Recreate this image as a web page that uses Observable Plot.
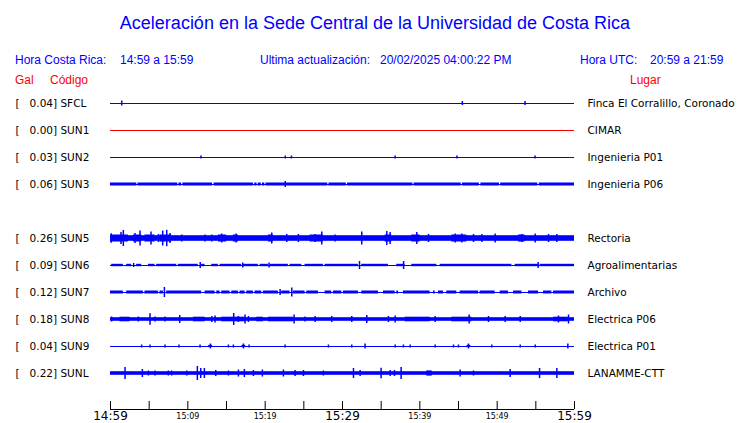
<!DOCTYPE html>
<html>
<head>
<meta charset="utf-8">
<script src="https://cdn.jsdelivr.net/npm/d3@7"></script>
<script src="https://cdn.jsdelivr.net/npm/@observablehq/plot@0.6"></script>
<style>
  body { margin: 0; background: #fff; width: 740px; height: 423px; overflow: hidden; }
  #hdr { position: relative; height: 90px; font-family: "Liberation Sans", Arial, sans-serif; font-size: 12px; color: #0000ff; }
  #hdr span { position: absolute; white-space: pre; line-height: 14px; }
  #hdr .red { color: #ff0000; }
  #title { position: absolute; top: 13px; left: 0; width: 750px; text-align: center; font-size: 18px; line-height: 20px; }
  #chart svg { display: block; }
</style>
</head>
<body>
<div id="hdr">
  <div id="title">Aceleración en la Sede Central de la Universidad de Costa Rica</div>
  <span style="left:15px;top:53px">Hora Costa Rica:</span>
  <span style="left:120px;top:53px">14:59 a 15:59</span>
  <span style="left:260px;top:53px">Ultima actualización:</span>
  <span style="left:380px;top:53px">20/02/2025 04:00:22 PM</span>
  <span style="left:580px;top:53px">Hora UTC:</span>
  <span style="left:650px;top:53px">20:59 a 21:59</span>
  <span class="red" style="left:15px;top:73px">Gal</span>
  <span class="red" style="left:50px;top:73px">Código</span>
  <span class="red" style="left:630px;top:73px">Lugar</span>
</div>
<div id="chart"></div>
<script>
// ---- stations (SUN4 has no trace: empty row) ----
const codes   = ["SFCL","SUN1","SUN2","SUN3","SUN4","SUN5","SUN6","SUN7","SUN8","SUN9","SUNL"];
const peakGal = [0.04, 0.00, 0.03, 0.06, null, 0.26, 0.09, 0.12, 0.18, 0.04, 0.22];
const places  = ["Finca El Corralillo, Coronado","CIMAR","Ingenieria P01","Ingenieria P06",null,
                 "Rectoria","Agroalimentarias","Archivo","Electrica P06","Electrica P01","LANAMME-CTT"];

// ---- time axis (minutes after 14:59) ----
const tickMinutes = [0,5,10,15,20,25,30,35,40,45,50,55,60];
const majorTicks  = [0,30,60];
const majorLabels = ["14:59","15:29","15:59"];
const minorTicks  = [10,20,40,50];
const minorLabels = ["15:09","15:19","15:39","15:49"];

// ---- trace envelopes: [startMin, endMin, relAmp] and spikes [min, relAmp] ----
const sfclBand = [];
const sfclSpikes = [[1.45,2.5],[45.5,2],[53.6,2]];
const sun1Band = [];
const sun1Spikes = [];
const sun2Band = [];
const sun2Spikes = [[11.7,1.5],[22.6,1.5],[23.4,1.5],[36.8,1.5],[44.8,1.5],[54.9,1.5]];
const sun3Band = [[0,3.4,1.5],[3.55,8.7,1.5],[8.85,9.2,1.5],[9.35,13.2,1.5],[13.4,18.5,1.5],[18.65,18.95,1.5],
  [19.1,19.5,1.5],[19.65,19.95,1.5],[20.1,28.1,1.5],[28.25,30.5,1.5],[30.65,39.1,1.5],[39.25,45.35,1.5],
  [45.5,47.7,1.5],[47.9,50.3,1.5],[50.45,55.25,1.5],[55.45,60,1.5]];
const sun3Spikes = [[22.6,3]];
const sun5Band = [[0,60,2.8],[0,2.31,3.5],[2.96,4.03,3.5],[4.46,5.76,3.5],[6.4,7.91,3.5],[13.95,15.03,3.5],[15.89,16.54,3.5],
  [20.42,21.07,3.5],[25.81,27.53,3.5],[35.51,36.37,3.5],[38.96,40.04,3.5],[44.14,46.08,3.5],[52.76,53.62,3.5]];
const sun5Spikes = [[0.1,4.7],[1.36,6],[1.66,8],[3.17,5],[3.82,7.5],[5.24,6.5],[6.19,4],[6.75,7.5],[7.27,8.2],
  [7.7,5],[9.21,3.5],[12.23,3.5],[13.09,3.5],[14.38,4.5],[16.24,4.5],[20.85,5.5],[22.79,4],[24.3,4],[26.46,4],
  [27.32,6.5],[29.04,3.5],[32.49,6.5],[35.73,7],[36.16,6],[39.61,6],[41.12,4],[44.57,4.5],[45.43,4.5],[46.94,4],
  [48.02,4],[49.74,4.5],[53.19,4],[54.92,4.5],[56.64,4],[57.72,4]];
const sun6Band = [[0.15,1.66,1.2],[2.09,2.74,1.2],[3.38,4.03,1.2],[4.9,5.76,1.2],[5.97,8.56,1.2],[8.77,11.36,1.2],
  [11.79,12.22,1.2],[13.09,13.95,1.2],[14.17,16.97,1.2],[17.18,19.12,1.2],[19.34,20.42,1.2],[20.63,23.0,1.2],
  [23.22,24.73,1.2],[25.16,27.53,1.2],[27.75,32.06,1.2],[32.49,35.94,1.2],[37.02,38.1,1.2],[38.96,42.2,1.2],
  [42.63,51.9,1.2],[52.33,55.35,1.2],[55.56,60,1.2]];
const sun6Spikes = [[3.0,2],[11.6,3],[17.1,2.5],[20.5,2.5],[32.2,4],[37.9,4],[55.3,3]];
const sun7Band = [[0,1.66,1.5],[2.09,4.25,1.5],[4.46,6.19,1.5],[6.4,6.84,1.5],[7.27,11.79,1.5],[12.23,13.52,1.5],
  [13.74,14.17,1.5],[14.38,15.46,1.5],[15.68,16.54,1.5],[16.75,17.4,1.5],[17.62,18.48,1.5],[18.69,19.56,1.5],
  [19.77,21.71,1.5],[22.14,23.22,1.5],[23.65,25.16,1.5],[25.38,26.89,1.5],[27.75,28.61,1.5],[28.83,29.91,1.5],
  [30.12,32.06,1.5],[32.49,34.65,1.5],[35.3,36.81,1.5],[37.02,37.24,1.5],[37.88,41.33,1.5],[41.76,41.98,1.5],
  [42.41,43.06,1.5],[43.49,44.78,1.5],[45.21,47.59,1.5],[47.8,49.74,1.5],[50.39,51.47,1.5],[52.12,53.2,1.5],
  [54.05,55.35,1.5],[56.0,57.07,1.5],[57.29,60,1.5]];
const sun7Spikes = [[6.97,5],[21.93,3],[23.44,4.5]];
const sun8Band = [[0,60,1.8],[1.23,2.52,2.3],[10.72,12.23,2.3],[14.38,17.4,2.3],[18.91,19.77,2.3],[20.42,23.65,2.3],
  [38.1,41.33,2.3],[44.14,46.72,2.3],[57.29,59.2,2.3]];
const sun8Spikes = [[0.15,2.5],[3.6,2.5],[5.11,5.8],[5.76,2.5],[7.05,2.5],[8.95,4],[13.09,3],[13.52,3.5],[15.93,6],
  [16.54,3],[17.4,4.5],[17.83,3],[23.74,4.5],[25.16,2.5],[26.46,3],[28.61,3],[31.2,3],[33.14,4],[35.94,3],
  [36.81,3.5],[41.98,3],[46.38,4.5],[48.88,3],[51.04,3],[52.98,3],[57.93,3.5],[59.23,4.5]];
const sun9Band = [[12.7,13.2,1.1],[17.0,17.5,1.1],[46.1,46.6,1.1]];
const sun9Spikes = [[4.03,1.5],[5.11,1.5],[7.05,1.5],[8.86,1.5],[11.58,1.5],[12.92,2.5],[15.25,1.5],[15.89,1.5],
  [17.19,2.5],[17.92,1.5],[22.58,1.5],[28.18,1.5],[31.2,1.5],[32.92,2.5],[36.81,1.5],[37.88,1.5],[38.75,1.5],
  [41.98,1.5],[44.35,1.5],[45.0,1.5],[46.29,2.5],[49.31,1.5],[52.98,1.5],[54.92,1.5],[59.14,2.5]];
const sunlBand = [[0,60,1.8],[40.9,41.6,2.6]];
const sunlSpikes = [[1.88,6],[4.12,4],[4.9,2.5],[5.76,2.5],[7.48,2.5],[7.91,2.5],[9.86,2.5],[11.23,7],[11.67,5],
  [12.14,5],[13.61,3],[15.25,2.5],[16.54,3.5],[17.31,4],[18.48,3],[19.64,3.5],[22.36,3.5],[23.87,3],[24.95,3],
  [27.53,2.5],[31.42,5],[32.28,3],[34.99,5.2],[36.16,3],[36.72,3],[37.58,6],[45.21,3.5],[46.94,2.5],[51.68,4],
  [55.48,5],[57.72,5]];

// relative amplitude units per trace spacing
const AMP_PER_ROW = 27;

const bands  = {SFCL: sfclBand, SUN1: sun1Band, SUN2: sun2Band, SUN3: sun3Band, SUN5: sun5Band, SUN6: sun6Band,
                SUN7: sun7Band, SUN8: sun8Band, SUN9: sun9Band, SUNL: sunlBand};
const spikes = {SFCL: sfclSpikes, SUN1: sun1Spikes, SUN2: sun2Spikes, SUN3: sun3Spikes, SUN5: sun5Spikes, SUN6: sun6Spikes,
                SUN7: sun7Spikes, SUN8: sun8Spikes, SUN9: sun9Spikes, SUNL: sunlSpikes};

const stations = codes.map((code, i) => ({code, row: i, gal: peakGal[i], place: places[i]}))
                      .filter(d => d.gal !== null);
const bandRows = stations.flatMap(s => bands[s.code].map(([t0, t1, a]) => ({code: s.code, row: s.row, t0, t1, a})));
const spikeRows = stations.flatMap(s => spikes[s.code].map(([t, a]) => ({code: s.code, row: s.row, t, a})));
const yMax = codes.length - 1 + 4 / 3;

const blue = "#0000ff";
const chart = Plot.plot({
  width: 740, height: 333,
  marginLeft: 110, marginRight: 166, marginTop: 13, marginBottom: 14,
  x: {domain: [0, 60]},
  y: {domain: [0, yMax], range: [13, 319], axis: null},
  style: {fontFamily: "DejaVu Sans", fontSize: "10.5px", background: "white", overflow: "visible"},
  marks: [
    Plot.ruleY(stations.filter(d => d.code !== "SUN1"), {y: "row", stroke: blue, strokeWidth: 1}),
    Plot.ruleY(stations.filter(d => d.code === "SUN1"), {y: "row", stroke: "#ff0000", strokeWidth: 1.2}),
    Plot.rect(bandRows, {x1: "t0", x2: "t1", y1: d => d.row - d.a / AMP_PER_ROW, y2: d => d.row + d.a / AMP_PER_ROW, fill: blue}),
    Plot.ruleX(spikeRows, {x: "t", y1: d => d.row - d.a / AMP_PER_ROW, y2: d => d.row + d.a / AMP_PER_ROW, stroke: blue, strokeWidth: 1.5}),
    Plot.text(stations, {y: "row", text: d => `[\u00a0\u00a0\u00a0${d.gal.toFixed(2)}] ${d.code}`, frameAnchor: "left", dx: -95, textAnchor: "start", fill: "black"}),
    Plot.text(stations, {y: "row", text: "place", frameAnchor: "right", dx: 13, textAnchor: "start", fill: "black"}),
    Plot.ruleY([yMax], {stroke: "black", strokeWidth: 1}),
    Plot.axisX(tickMinutes, {tickSize: 8, dy: -8, tickFormat: () => "", label: null, stroke: "black"}),
    Plot.axisX(majorTicks, {tickSize: 0, tickPadding: 2, fontSize: 12, fill: "black", label: null,
      tickFormat: d => majorLabels[majorTicks.indexOf(d)]}),
    Plot.axisX(minorTicks, {tickSize: 0, tickPadding: 4, fontSize: 8, fill: "black", label: null,
      tickFormat: d => minorLabels[minorTicks.indexOf(d)]})
  ]
});
document.getElementById("chart").appendChild(chart);
</script>
</body>
</html>
